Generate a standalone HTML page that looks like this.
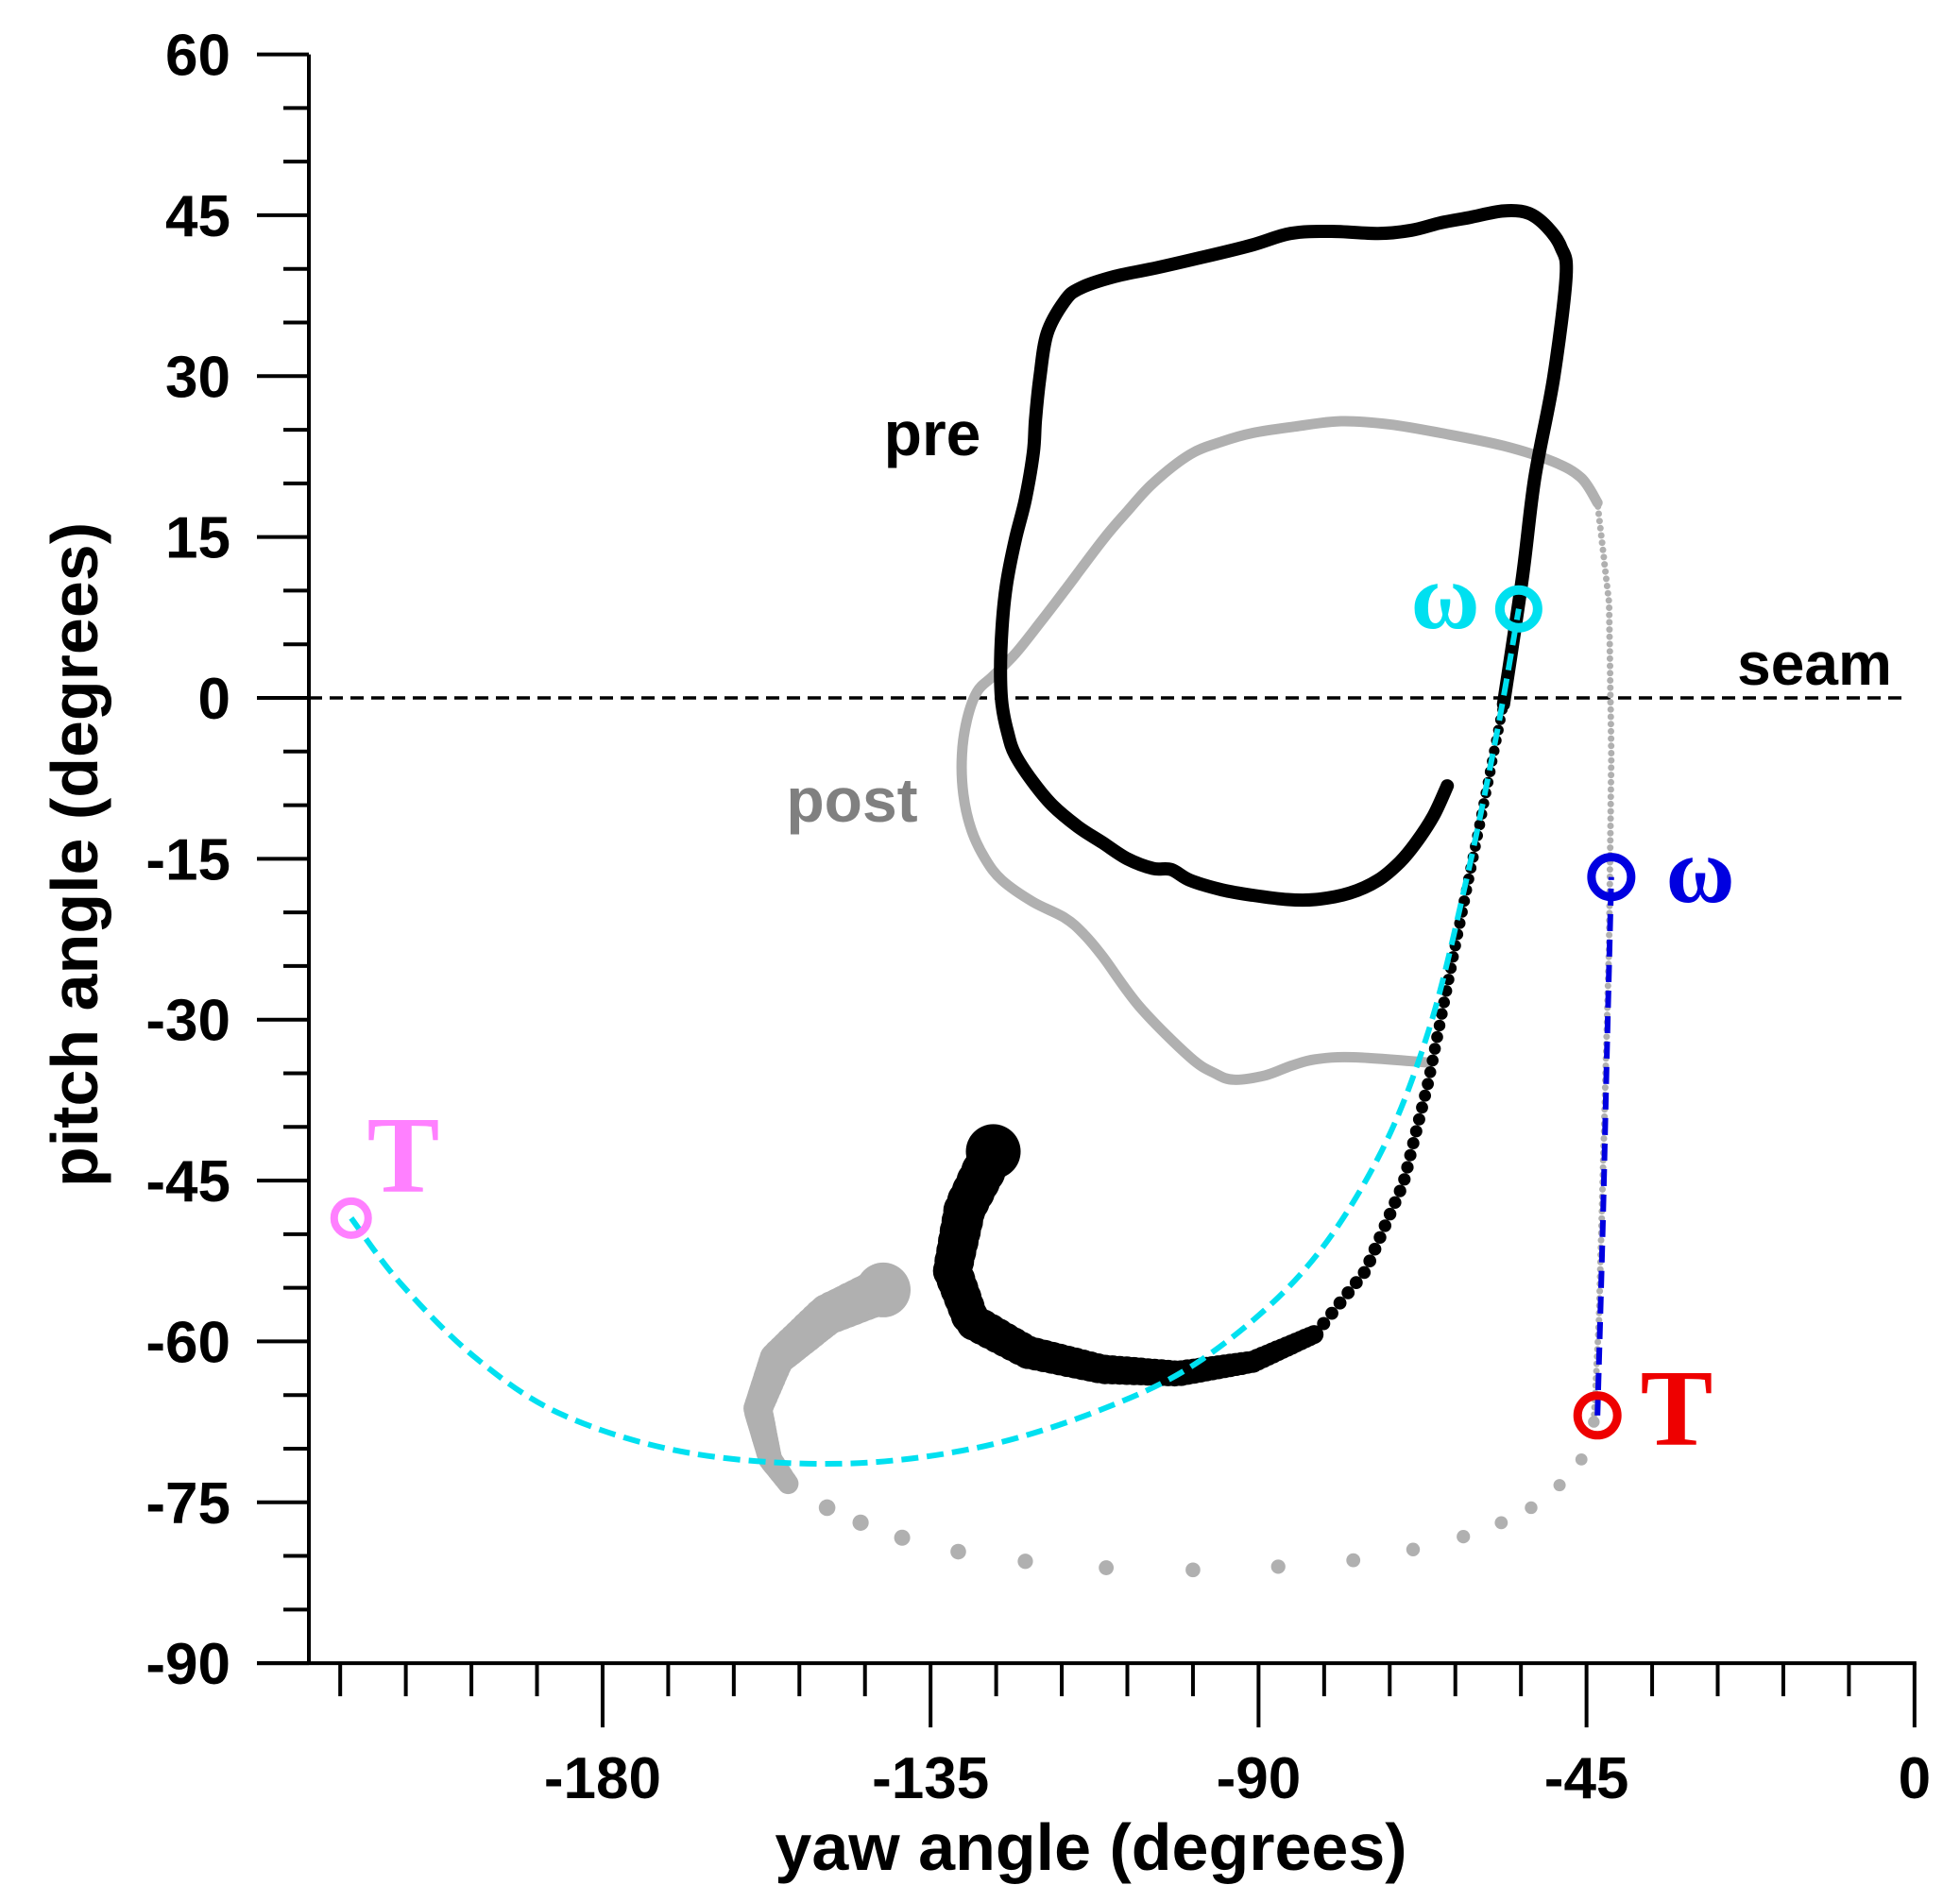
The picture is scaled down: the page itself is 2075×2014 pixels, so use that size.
<!DOCTYPE html>
<html><head><meta charset="utf-8"><style>
html,body{margin:0;padding:0;background:#fff}
svg{display:block}
text{font-family:"Liberation Sans",sans-serif;font-weight:bold}
</style></head><body>
<svg id="chart" width="2075" height="2014" viewBox="0 0 2075 2014" xmlns="http://www.w3.org/2000/svg">
<g id="axes"></g>
<g id="plot"></g>
<g id="labels"></g>
</svg>
<script>
// ---- data (yaw, pitch in degrees) ----
const yTicks = [-90,-75,-60,-45,-30,-15,0,15,30,45,60];
const xTicks = [-180,-135,-90,-45,0];
const preHead = [[-126.4,-42.3],[-130.3,-47.6],[-132,-53.4],[-129.4,-58.1],[-121.7,-61],[-111.4,-62.6],[-101,-63],[-90.8,-61.9],[-82.2,-59.3]];
const preRiser = [[-82.2,-59.3],[-75.3,-53.4],[-70.1,-45.2],[-66.7,-35.8],[-63.3,-24.1],[-59.8,-12.3],[-56.4,-0.6]];
const preLoop = [[-56.4,-0.6],[-53.8,11.2],[-52.1,20.5],[-49.5,29.9],[-47.8,39.3],[-48.5,42],[-50.4,43.9],[-53,45.2],[-56.4,45.4],[-61,44.8],[-65,44.3],[-69,43.6],[-73.6,43.3],[-80,43.5],[-85.6,43.3],[-91,42.2],[-97.6,41.1],[-104,40.1],[-109.7,39.3],[-114.5,38.2],[-116.6,37],[-119,34],[-120,29.9],[-120.6,26],[-120.9,22.9],[-122,18.5],[-123.4,14.7],[-124.6,10.5],[-125.2,6.5],[-125.4,2.5],[-125.2,-0.6],[-124.4,-3.3],[-123.4,-5.3],[-121,-7.8],[-118.3,-10],[-114.8,-12],[-111.4,-13.5],[-108,-15],[-104.5,-15.9],[-102,-16],[-99.4,-17],[-95,-17.9],[-90.8,-18.4],[-86,-18.8],[-82.2,-18.8],[-77.5,-18.2],[-73.6,-17],[-70.6,-15.3],[-68.4,-13.5],[-66,-11],[-64.1,-8.2]];
const postHead = [[-141.5,-55.2],[-149.2,-57.5],[-156.1,-61.6],[-158.7,-66.3],[-157,-71],[-154.4,-73.4]];
const postDots = [[-154.4,-73.4],[-149.2,-75.5],[-144.6,-76.9],[-138.9,-78.3],[-131.2,-79.6],[-122,-80.5],[-110.9,-81.1],[-99,-81.3],[-87.3,-81],[-77,-80.4],[-68.8,-79.4],[-61.9,-78.2],[-56.7,-76.9],[-52.6,-75.5],[-48.7,-73.4],[-45.7,-71],[-44,-67.5]];
const postRiser = [[-44,-67.5],[-43.3,-58.1],[-42.6,-40.5],[-41.9,-22.9],[-41.6,-5.3],[-41.9,8.8],[-43.5,18.2]];
const postLoop = [[-43.5,18.2],[-45.7,20.5],[-49.5,22],[-56.4,23.5],[-65,24.7],[-72,25.5],[-78.7,25.8],[-85,25.3],[-90.8,24.7],[-95,23.9],[-99.4,22.7],[-104.5,20],[-108,17.4],[-111.4,14.7],[-116.6,10],[-120,7],[-123.4,4.1],[-126.5,2],[-128.6,0.6],[-130,-2],[-130.7,-5.3],[-130.5,-9],[-129.4,-12.3],[-127.5,-15],[-125.2,-17],[-121,-19],[-116.6,-20.5],[-114,-22],[-111.4,-24.1],[-106.3,-28.8],[-99.4,-33.5],[-96,-35],[-93.4,-35.6],[-89.1,-35.2],[-85.5,-34.3],[-82.2,-33.7],[-77,-33.5],[-66.7,-34]];
const cyanPath = [[-214.5,-48.5],[-207.7,-54.6],[-197.3,-61.6],[-185.3,-66.9],[-168.1,-70.4],[-147.5,-71.4],[-128.6,-69.9],[-111.4,-66.3],[-97.6,-61.6],[-83.8,-53.4],[-73.6,-42.9],[-66.7,-31.1],[-61.5,-17],[-57.2,-2.9],[-54.3,8.3]];
const bluePath = [[-43.5,-66.9],[-42.8,-50],[-42.2,-33],[-41.6,-16.7]];
const seamLevel = [0];

// ---- scales ----
const X0=327, Y0=739, XS=7.716, YS=11.357;
const xs = v => X0 + (v + 220.3) * XS;
const ys = v => Y0 - v * YS;
const NS='http://www.w3.org/2000/svg';
function mk(tag, parent, attrs){const e=document.createElementNS(NS,tag);for(const k in attrs)e.setAttribute(k,attrs[k]);parent.appendChild(e);return e;}
const axes=document.getElementById('axes'), plot=document.getElementById('plot'), labels=document.getElementById('labels');

// axes
let e=mk('line',axes,{x1:X0,y1:ys(60),x2:X0,y2:ys(-90),stroke:'#000','stroke-width':4});


e=mk('line',axes,{x1:272,y1:ys(-90),x2:xs(0)+2,y2:ys(-90),stroke:'#000','stroke-width':4});


for(let v=-90;v<=60;v+=5){
  const major=v%15===0;
  e=mk('line',axes,{x1:major?272:300,y1:ys(v),x2:X0,y2:ys(v),stroke:'#000','stroke-width':4});
  
  
}
yTicks.forEach(v=>{
  const t=mk('text',axes,{x:244,y:ys(v)+22,'text-anchor':'end','font-size':62});
  t.textContent=v;
  
  
});
for(let v=-216;v<=0;v+=9){
  const major=v%45===0;
  e=mk('line',axes,{x1:xs(v),y1:ys(-90),x2:xs(v),y2:ys(-90)+(major?68:35),stroke:'#000','stroke-width':4});
  
  
}
xTicks.forEach(v=>{
  const t=mk('text',axes,{x:xs(v),y:1904,'text-anchor':'middle','font-size':62});
  t.textContent=v;
  
  
});
e=mk('text',axes,{x:1155,y:1980,'text-anchor':'middle','font-size':70});
e.textContent='yaw angle (degrees)';


e=mk('text',axes,{x:0,y:0,'text-anchor':'middle','font-size':70,transform:'translate(103,905) rotate(-90)'});
e.textContent='pitch angle (degrees)';



// seam
e=mk('line',plot,{x1:X0,y1:ys(seamLevel[0]),x2:xs(-1.7),y2:ys(seamLevel[0]),stroke:'#000','stroke-width':3.5,'stroke-dasharray':'14 8'});



// helpers
function pathD(pts){
  const p=pts.map(q=>[xs(q[0]),ys(q[1])]);
  let d='M'+p[0][0].toFixed(1)+' '+p[0][1].toFixed(1);
  for(let i=0;i<p.length-1;i++){
    const p0=p[Math.max(0,i-1)],p1=p[i],p2=p[i+1],p3=p[Math.min(p.length-1,i+2)];
    const c1=[p1[0]+(p2[0]-p0[0])/6,p1[1]+(p2[1]-p0[1])/6],c2=[p2[0]-(p3[0]-p1[0])/6,p2[1]-(p3[1]-p1[1])/6];
    d+=' C'+c1[0].toFixed(1)+' '+c1[1].toFixed(1)+' '+c2[0].toFixed(1)+' '+c2[1].toFixed(1)+' '+p2[0].toFixed(1)+' '+p2[1].toFixed(1);
  }
  return d;
}
function sampled(pts, spacingFn){
  const px=pts.map(p=>[xs(p[0]),ys(p[1])]);
  let L=[0];for(let i=1;i<px.length;i++)L.push(L[i-1]+Math.hypot(px[i][0]-px[i-1][0],px[i][1]-px[i-1][1]));
  const tot=L[L.length-1];const out=[];let d=0;
  while(d<=tot){let i=1;while(i<L.length-1&&L[i]<d)i++;const f=(d-L[i-1])/((L[i]-L[i-1])||1);
    out.push([px[i-1][0]+f*(px[i][0]-px[i-1][0]),px[i-1][1]+f*(px[i][1]-px[i-1][1]),d/tot]);d+=spacingFn(d/tot);}
  return out;
}
function beads(g, pts, r0, r1, spacingMul, color, name){
  sampled(pts,t=>Math.max(2,(r0+(r1-r0)*t)*spacingMul)).forEach(s=>{
    const c=mk('circle',g,{cx:s[0].toFixed(1),cy:s[1].toFixed(1),r:(r0+(r1-r0)*s[2]).toFixed(1),fill:color});
    
    
  });
}
function line(g,pts,w,color,name,dash){
  const p=mk('path',g,{d:pathD(pts),fill:'none',stroke:color,'stroke-width':w,'stroke-linejoin':'round','stroke-linecap':'round'});
  if(dash){p.setAttribute('stroke-dasharray',dash);p.setAttribute('stroke-linecap','butt');}
  
  
}

// post (gray)
const gPost=mk('g',plot,{});


line(gPost,postLoop,11,'#b0b0b0','post-loop-line');
beads(gPost,postRiser,3.5,3.5,2.2,'#b0b0b0','post-riser-dot');
postDots.forEach((p,i)=>{
  const c=mk('circle',gPost,{cx:xs(p[0]),cy:ys(p[1]),r:(9-3*i/postDots.length).toFixed(1),fill:'#b0b0b0'});
  
  
});
beads(gPost,postHead,25,11,0.3,'#b0b0b0','post-head-dot');
e=mk('circle',gPost,{cx:xs(postHead[0][0]),cy:ys(postHead[0][1]),r:29,fill:'#b0b0b0'});



// pre (black)
const gPre=mk('g',plot,{});


line(gPre,preLoop,14,'#000','pre-loop-line');
beads(gPre,preRiser,7,5.5,2.0,'#000','pre-riser-dot');
beads(gPre,preHead,24,10,0.5,'#000','pre-head-dot');
e=mk('circle',gPre,{cx:xs(preHead[0][0]),cy:ys(preHead[0][1]),r:29,fill:'#000'});



// cyan & blue dashed
line(plot,cyanPath,6,'#00e0f0','cyan-dashed-path','18 9');
line(plot,bluePath,6,'#0000e0','blue-dashed-path','18 9');

// markers
function ring(p,r,w,color,name){
  const c=mk('circle',plot,{cx:xs(p[0]),cy:ys(p[1]),r:r,fill:'none',stroke:color,'stroke-width':w});
  
  
}
ring(cyanPath[0],18,8,'#ff80ff','pink-t-marker');
ring(cyanPath[cyanPath.length-1],20,10,'#00e0f0','cyan-omega-marker');
ring(bluePath[0],21,9,'#ee0000','red-t-marker');
ring(bluePath[bluePath.length-1],21,9,'#0000e0','blue-omega-marker');

// text labels
function lab(txt,x,y,size,color,name,serif){
  const t=mk('text',labels,{x:x,y:y,'font-size':size,fill:color,'text-anchor':'middle'});
  if(serif)t.setAttribute('style','font-family:"Liberation Serif",serif;font-weight:bold');
  t.textContent=txt;
  
  
}
lab('pre',987,482,66,'#000','pre-label');
lab('post',902,870,66,'#808080','post-label');
lab('seam',1921,725,64,'#000','seam-label');
lab('ω',1530,665,100,'#00e0f0','cyan-omega-label',true);
lab('ω',1800,955,100,'#0000e0','blue-omega-label',true);
lab('T',427,1262,115,'#ff80ff','pink-t-label',true);
lab('T',1775,1530,115,'#ee0000','red-t-label',true);
</script>
</body></html>
